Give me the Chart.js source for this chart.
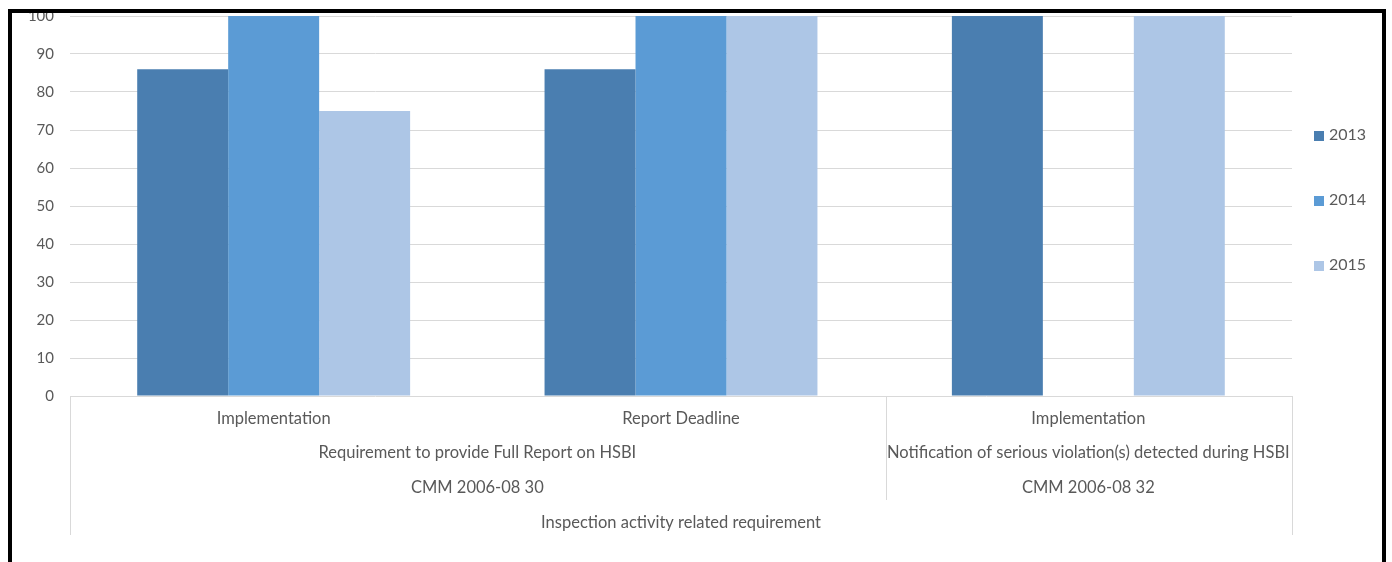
<!DOCTYPE html>
<html>
<head>
<meta charset="utf-8">
<script src="https://cdn.jsdelivr.net/npm/chart.js@4.4.1/dist/chart.umd.min.js"></script>
<style>
  html, body { margin: 0; padding: 0; background: #ffffff; }
  #wrap { width: 1392px; height: 562px; position: relative; }
</style>
</head>
<body>
<div id="wrap"><canvas id="chart"></canvas></div>
<script>
// Innermost category level (one per bar group)
const categories = ['Implementation', 'Report Deadline', 'Implementation'];

// Second level: requirement names and the category index ranges they cover
const requirementLabels = [
  'Requirement to provide Full Report on HSBI',
  'Notification of serious violation(s) detected during HSBI'
];
const requirementSpans = [[0, 1], [2, 2]];

// Third level: CMM references, same ranges as the requirements
const cmmLabels = ['CMM 2006-08 30', 'CMM 2006-08 32'];

// Outermost level covering every category
const topLevelLabel = 'Inspection activity related requirement';

// Series
const seriesNames = ['2013', '2014', '2015'];
const values2013 = [86, 86, 100];
const values2014 = [100, 100, null];
const values2015 = [75, 100, 100];

// Value axis ticks
const yTicks = [0, 10, 20, 30, 40, 50, 60, 70, 80, 90, 100];

const seriesColors = ['#4a7eb0', '#5b9bd5', '#adc6e6'];
const textColor = '#595959';
const lineColor = '#d9d9d9';
const fontFamily = 'Lato, "Open Sans", sans-serif';

// Multi-level category labels under the plot, Excel style
const categoryLevels = {
  id: 'categoryLevels',
  afterDraw(chart) {
    const ctx = chart.ctx;
    const x = chart.scales.x;
    const area = chart.chartArea;
    const half = (x.getPixelForValue(1) - x.getPixelForValue(0)) / 2;
    const edge = i => x.getPixelForValue(i) - half;
    ctx.save();
    ctx.strokeStyle = lineColor;
    ctx.lineWidth = 1;
    const vline = (px, y1, y2) => {
      ctx.beginPath();
      ctx.moveTo(Math.round(px) + 0.5, y1);
      ctx.lineTo(Math.round(px) + 0.5, y2);
      ctx.stroke();
    };
    const bottomFull = area.bottom + 139;
    const bottomMid = area.bottom + 104;
    vline(area.left, area.bottom, bottomFull);
    vline(area.right, area.bottom, bottomFull);
    requirementSpans.forEach((span, k) => {
      if (k > 0) vline(edge(span[0]) + 1, area.bottom, bottomMid);
    });

    ctx.fillStyle = textColor;
    ctx.font = '16.5px ' + fontFamily;
    ctx.textAlign = 'center';
    ctx.textBaseline = 'middle';
    categories.forEach((c, i) => {
      ctx.fillText(c, x.getPixelForValue(i), area.bottom + 23);
    });
    requirementLabels.forEach((r, k) => {
      const s = requirementSpans[k];
      const cx = (x.getPixelForValue(s[0]) + x.getPixelForValue(s[1])) / 2;
      ctx.fillText(r, cx, area.bottom + 57);
      ctx.fillText(cmmLabels[k], cx, area.bottom + 92);
    });
    ctx.fillText(topLevelLabel, (area.left + area.right) / 2, area.bottom + 127);
    ctx.restore();
  }
};

// Legend on the right, one entry per dataset
const sideLegend = {
  id: 'sideLegend',
  afterDraw(chart) {
    const ctx = chart.ctx;
    ctx.save();
    ctx.font = '16px ' + fontFamily;
    ctx.textBaseline = 'middle';
    ctx.textAlign = 'left';
    chart.data.datasets.forEach((ds, i) => {
      const cy = 135 + i * 65;
      ctx.fillStyle = ds.backgroundColor;
      ctx.fillRect(1314, cy - 4, 10, 10);
      ctx.fillStyle = textColor;
      ctx.fillText(ds.label, 1329, cy);
    });
    ctx.restore();
  }
};

// Black frame around the picture
const frame = {
  id: 'frame',
  afterDraw(chart) {
    const ctx = chart.ctx;
    ctx.save();
    ctx.fillStyle = '#ffffff';
    ctx.fillRect(0, 0, chart.width, 9);
    ctx.strokeStyle = '#000000';
    ctx.lineWidth = 4;
    ctx.beginPath();
    ctx.moveTo(10, chart.height + 5);
    ctx.lineTo(10, 11);
    ctx.lineTo(1384, 11);
    ctx.lineTo(1384, chart.height + 5);
    ctx.stroke();
    ctx.restore();
  }
};

new Chart(document.getElementById('chart'), {
  type: 'bar',
  data: {
    labels: categories,
    datasets: [
      { label: seriesNames[0], data: values2013, backgroundColor: seriesColors[0] },
      { label: seriesNames[1], data: values2014, backgroundColor: seriesColors[1] },
      { label: seriesNames[2], data: values2015, backgroundColor: seriesColors[2] }
    ]
  },
  options: {
    responsive: true,
    maintainAspectRatio: false,
    animation: false,
    layout: { padding: { left: 0, top: 16, right: 100, bottom: 166 } },
    datasets: { bar: { categoryPercentage: 0.67, barPercentage: 1.0, borderWidth: 0 } },
    plugins: {
      legend: { display: false },
      tooltip: { enabled: false },
      title: { display: false }
    },
    scales: {
      x: { display: false },
      y: {
        min: 0,
        max: 100,
        afterBuildTicks(scale) { scale.ticks = yTicks.map(v => ({ value: v })); },
        afterFit(scale) {
          scale.width = 70;
          scale.paddingTop = 0;
          scale.paddingBottom = 0;
        },
        ticks: {
          color: textColor,
          font: { family: fontFamily, size: 15 },
          padding: 16
        },
        grid: { color: lineColor, drawTicks: false },
        border: { display: false }
      }
    }
  },
  plugins: [categoryLevels, sideLegend, frame]
});
</script>
</body>
</html>
